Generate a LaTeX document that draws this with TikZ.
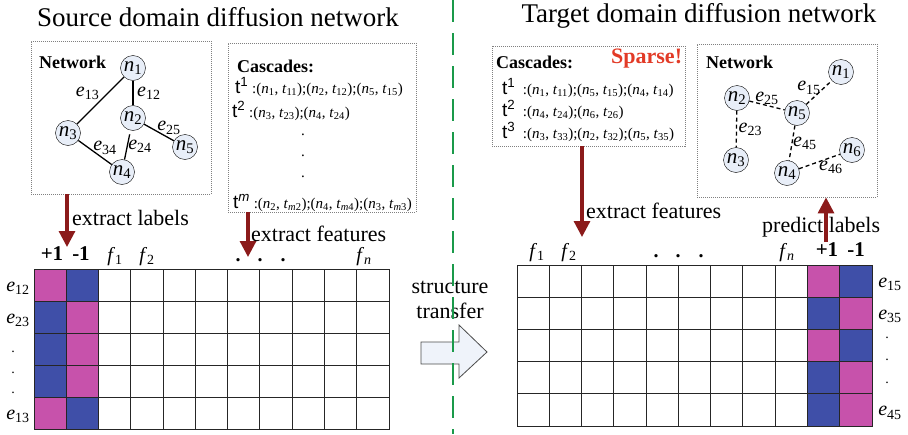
\documentclass[tikz,border=0pt]{standalone}
\usepackage{fontspec}
\setmainfont{Liberation Serif}
\newfontfamily\tfont{Liberation Sans}
\usepackage{tikz}
\usetikzlibrary{positioning,arrows.meta}

\definecolor{labred}{HTML}{8B1A1A}
\definecolor{nodeblue}{HTML}{E8EEF8}
\definecolor{cellpink}{HTML}{C752AB}
\definecolor{cellblue}{HTML}{3F4FA8}
\definecolor{splitgreen}{HTML}{1A9A4A}
\definecolor{sparsered}{HTML}{E23A26}

\newcommand{\fsz}[1]{\fontsize{#1}{#1}\selectfont}
\newcommand{\ilab}[2]{\textit{#1}\textsubscript{#2}}
\newcommand{\tuple}[2]{(\textit{n}\textsubscript{#1}, \textit{t}\textsubscript{#2})}
\newcommand{\tstep}[1]{{\fsz{19}\tfont t\textsuperscript{#1}}}

\begin{document}
\begin{tikzpicture}[
    x=1pt, y=-1pt,
    title/.style={font=\fsz{27}},                                   % panel titles
    panel/.style={draw=gray, dash pattern=on 1pt off 1pt, anchor=north west, inner sep=0pt}, % dotted frames
    head/.style={font=\bfseries\fsz{18}, anchor=west, inner sep=0pt}, % "Network", "Cascades:"
    vert/.style={circle, draw, fill=nodeblue, minimum size=25pt, inner sep=0pt, font=\fsz{21}}, % graph nodes
    link/.style={line width=1.3pt},                                 % source edges
    dlink/.style={link, dash pattern=on 4pt off 3pt},               % target edges
    elab/.style={font=\fsz{20}, inner sep=0.5pt},                   % edge labels
    cline/.style={anchor=base west, inner sep=0pt, font=\fsz{15}},  % cascade lines
    pull/.style={labred, line width=3.2pt, -{Triangle[width=16pt,length=16pt]}}, % red arrows
    note/.style={font=\fsz{22}, inner sep=0pt},                     % arrow captions
    collab/.style={font=\fsz{20}, anchor=base},                     % f_1 ... f_n
    sign/.style={font=\bfseries\fsz{21}, anchor=base},              % +1 -1
    cell/.style={draw=black!85, line width=0.9pt}                   % matrix cells
    ]
    \useasboundingbox (0,0) rectangle (908,434);

    % Titles
    \node[title] (srctitle) at (218,17) {Source domain diffusion network};
    \node[title] (tgttitle) at (699,16) {Target domain diffusion network};

    % Source network panel
    \node[panel, minimum width=180pt, minimum height=153pt] (srcnet) at (31,41) {};
    \node[head] (srcnethead) at (39,62) {Network};
    \node[vert] (sn1) at (133,68) {\ilab{n}{1}};
    \node[vert] (sn2) at (133,118) {\ilab{n}{2}};
    \node[vert] (sn3) at (68,133) {\ilab{n}{3}};
    \node[vert] (sn4) at (122,172) {\ilab{n}{4}};
    \node[vert] (sn5) at (185,147) {\ilab{n}{5}};
    \draw[link] (sn1) -- node[elab, above left] {\ilab{e}{13}} (sn3);
    \draw[link] (sn1) -- node[elab, right=3pt] {\ilab{e}{12}} (sn2);
    \draw[link] (sn2) -- node[elab, above right=-4pt] {\ilab{e}{25}} (sn5);
    \draw[link] (sn3) -- node[elab, above right=-4pt] {\ilab{e}{34}} (sn4);
    \draw[link, shorten >=4pt] (sn4) -- node[elab, right, pos=0.45] {\ilab{e}{24}} (sn2);

    % Source cascades panel
    \node[panel, minimum width=188pt, minimum height=169pt] (srccasc) at (228,43) {};
    \node[head] (srccaschead) at (237,66) {Cascades:};
    \node[cline] (sc1) at (235,93) {\tstep{1} :\tuple{1}{11};\tuple{2}{12};\tuple{5}{15}};
    \node[cline] (sc2) at (232,117) {\tstep{2} :\tuple{3}{23};\tuple{4}{24}};
    \foreach \y in {135,156,177}
      \node[font=\fsz{15}, inner sep=0pt] at (303,\y) {.};
    \node[cline] (scm) at (233,208) {\tstep{\textit{m}} :\tuple{2}{\textit{m}2};\tuple{4}{\textit{m}4};\tuple{3}{\textit{m}3}};

    % Target cascades panel
    \node[panel, minimum width=193pt, minimum height=100pt] (tgtcasc) at (492,46) {};
    \node[head] (tgtcaschead) at (496,62) {Cascades:};
    \node[font=\bfseries\fsz{22}, text=sparsered, anchor=west, inner sep=0pt] (sparse) at (611,59) {Sparse!};
    \node[cline] (tc1) at (502,94) {\tstep{1}\ \ :\tuple{1}{11};\tuple{5}{15};\tuple{4}{14}};
    \node[cline] (tc2) at (502,116) {\tstep{2}\ \ :\tuple{4}{24};\tuple{6}{26}};
    \node[cline] (tc3) at (502,138) {\tstep{3}\ \ :\tuple{3}{33};\tuple{2}{32};\tuple{5}{35}};

    % Target network panel
    \node[panel, minimum width=180pt, minimum height=153pt] (tgtnet) at (697,44) {};
    \node[head] (tgtnethead) at (706,62) {Network};
    \node[vert] (tn1) at (841,72) {\ilab{n}{1}};
    \node[vert] (tn2) at (737,98) {\ilab{n}{2}};
    \node[vert] (tn3) at (736,160) {\ilab{n}{3}};
    \node[vert] (tn4) at (787,173) {\ilab{n}{4}};
    \node[vert] (tn5) at (797,113) {\ilab{n}{5}};
    \node[vert] (tn6) at (852,150) {\ilab{n}{6}};
    \draw[dlink] (tn2) -- node[elab, above] {\ilab{e}{25}} (tn5);
    \draw[dlink] (tn5) -- node[elab, above left=-4pt] {\ilab{e}{15}} (tn1);
    \draw[dlink] (tn2) -- node[elab, right=1pt] {\ilab{e}{23}} (tn3);
    \draw[dlink] (tn5) -- node[elab, right] {\ilab{e}{45}} (tn4);
    \draw[dlink] (tn4) -- node[elab, below right=-2pt] {\ilab{e}{46}} (tn6);

    % Source matrix
    \foreach \c in {2,...,10}
      \foreach \r in {0,...,4}
        \draw[cell] ({34+\c*32.27},{269+\r*32}) rectangle ++(32.27,32);
    \foreach \r/\pa/\pb in {0/cellpink/cellblue, 1/cellblue/cellpink, 2/cellblue/cellpink,
                            3/cellblue/cellpink, 4/cellpink/cellblue} {
      \draw[cell, fill=\pa] (34,{269+\r*32}) rectangle ++(32.27,32);
      \draw[cell, fill=\pb] (66.27,{269+\r*32}) rectangle ++(32.27,32);
    }
    \node[sign] at (52,260) {+1};
    \node[sign] at (81,260) {-1};
    \node[collab] at (115,261) {\ilab{f}{1}};
    \node[collab] at (147,261) {\ilab{f}{2}};
    \foreach \x in {238,260,283}
      \node[collab, font=\bfseries\fsz{20}] at (\x,261) {.};
    \node[collab] at (364,261) {\ilab{f}{\textit{n}}};
    \foreach \r/\e in {0/12, 1/23, 4/13}
      \node[elab] at (18,{288+\r*32}) {\ilab{e}{\e}};
    \foreach \y in {352,373,393}
      \node[font=\fsz{14}, inner sep=0pt] at (13,\y) {.};

    % Target matrix
    \foreach \c in {0,...,8}
      \foreach \r in {0,...,4}
        \draw[cell] ({517+\c*32.27},{265+\r*32.2}) rectangle ++(32.27,32.2);
    \foreach \r/\pa/\pb in {0/cellpink/cellblue, 1/cellblue/cellpink, 2/cellpink/cellblue,
                            3/cellblue/cellpink, 4/cellblue/cellpink} {
      \draw[cell, fill=\pa] (807.43,{265+\r*32.2}) rectangle ++(32.27,32.2);
      \draw[cell, fill=\pb] (839.7,{265+\r*32.2}) rectangle ++(32.27,32.2);
    }
    \node[sign] at (827,256) {+1};
    \node[sign] at (856,256) {-1};
    \node[collab] at (537,257) {\ilab{f}{1}};
    \node[collab] at (569,257) {\ilab{f}{2}};
    \foreach \x in {656,678,701}
      \node[collab, font=\bfseries\fsz{20}] at (\x,257) {.};
    \node[collab] at (787,257) {\ilab{f}{\textit{n}}};
    \foreach \r/\e in {0/15, 1/35, 4/45}
      \node[elab] at (890,{284+\r*32.2}) {\ilab{e}{\e}};
    \foreach \y in {338,360,383}
      \node[font=\fsz{14}, inner sep=0pt] at (887,\y) {.};

    % Red arrows and captions
    \coordinate (lblhead) at (67,247);
    \coordinate (srcfhead) at (248,257);
    \coordinate (tgtfhead) at (582,237);
    \coordinate (predtail) at (826,242);
    \draw[pull] (srcnet.south -| lblhead) -- (lblhead);
    \draw[pull] (srccasc.south -| srcfhead) -- (srcfhead);
    \draw[pull] (tgtcasc.south -| tgtfhead) -- (tgtfhead);
    \draw[pull] (predtail) -- (tgtnet.south -| predtail);
    \node[note, anchor=west] (exlab) at (72,218) {extract labels};
    \node[note, anchor=west] (exsrc) at (251,234) {extract features};
    \node[note, anchor=west] (extgt) at (586,211) {extract features};
    \node[note, anchor=west] (pred) at (762,227) {predict labels};

    % Transfer block arrow
    \node[note, align=center, font=\fontsize{22}{25}\selectfont] (xfer) at (450,300) {structure\\transfer};
    \draw[fill=nodeblue!70, draw=black!70, line width=0.8pt]
      (421,342) -- (459,342) -- (459,325) -- (487,352) -- (459,378) -- (459,364) -- (421,364) -- cycle;

    % Domain split
    \draw[splitgreen, line width=2pt, dash pattern=on 22pt off 11pt] (453,0) -- (453,434);
\end{tikzpicture}
\end{document}
